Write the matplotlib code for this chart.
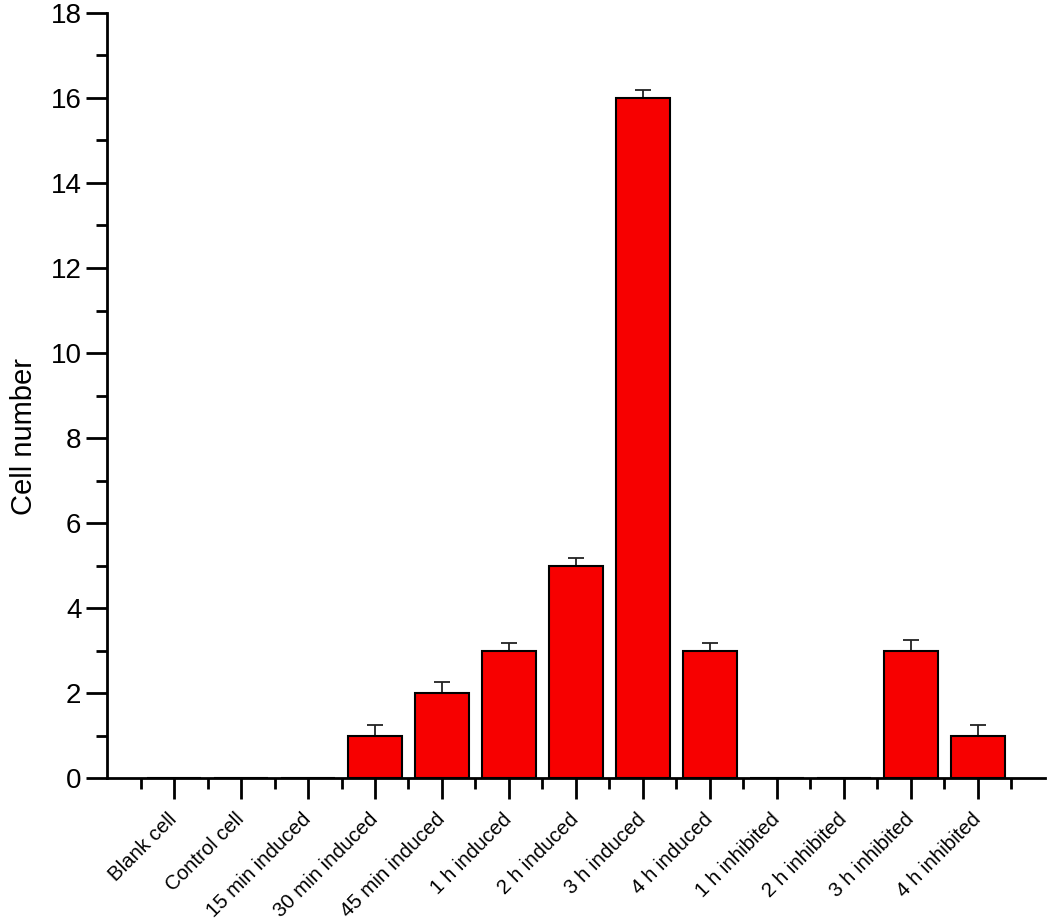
import numpy as np
import matplotlib.pyplot as plt
import matplotlib.transforms as mtransforms

plt.rcParams['font.family'] = ['Liberation Sans', 'DejaVu Sans']

categories = ["Blank cell", "Control cell", "15 min induced", "30 min induced",
              "45 min induced", "1 h induced", "2 h induced", "3 h induced",
              "4 h induced", "1 h inhibited", "2 h inhibited", "3 h inhibited",
              "4 h inhibited"]
values = [0, 0, 0, 1, 2, 3, 5, 16, 3, 0, 0, 3, 1]
errors = [0, 0, 0, 0.26, 0.26, 0.18, 0.18, 0.18, 0.18, 0, 0, 0.25, 0.26]

fig = plt.figure(figsize=(10.5, 9.22), dpi=100)
ax = fig.add_axes([0.102, 0.156, 0.893, 0.830])

x = np.arange(1, len(categories) + 1)
err = [e if e > 0 else np.nan for e in errors]
ax.bar(x, values, width=0.8, color='#f70000', edgecolor='black', linewidth=1.5, zorder=2)
ax.errorbar(x, values, yerr=[np.zeros(len(x)), err], fmt='none', ecolor='#222222',
            elinewidth=1.3, capsize=5.5, capthick=1.3, zorder=1)

ax.set_xlim(0, 14)
ax.set_ylim(0, 18)
ax.set_yticks(np.arange(0, 19, 2))
ax.set_yticks(np.arange(1, 18, 2), minor=True)
ax.set_xticks(x)
ax.set_xticks(np.arange(0.5, 14.5, 1), minor=True)
ax.set_xticklabels(categories, rotation=45, ha='right', va='top', rotation_mode='anchor', fontsize=14.7)
ax.tick_params(axis='y', labelsize=20)

ax.tick_params(which='major', direction='out', length=15, width=2)
ax.tick_params(which='minor', direction='out', length=8, width=2)
ax.tick_params(axis='x', which='major', pad=9)

# nudge rotated labels so their end sits under the tick
offset = mtransforms.ScaledTranslation(-0.07, 0.02, fig.dpi_scale_trans)
for lab in ax.get_xticklabels():
    lab.set_transform(lab.get_transform() + offset)

for s in ['top', 'right']:
    ax.spines[s].set_visible(False)
for s in ['left', 'bottom']:
    ax.spines[s].set_linewidth(2)

ax.set_ylabel("Cell number", fontsize=21)
ax.yaxis.set_label_coords(-0.074, 0.447)

fig.savefig("out.png", dpi=100)
